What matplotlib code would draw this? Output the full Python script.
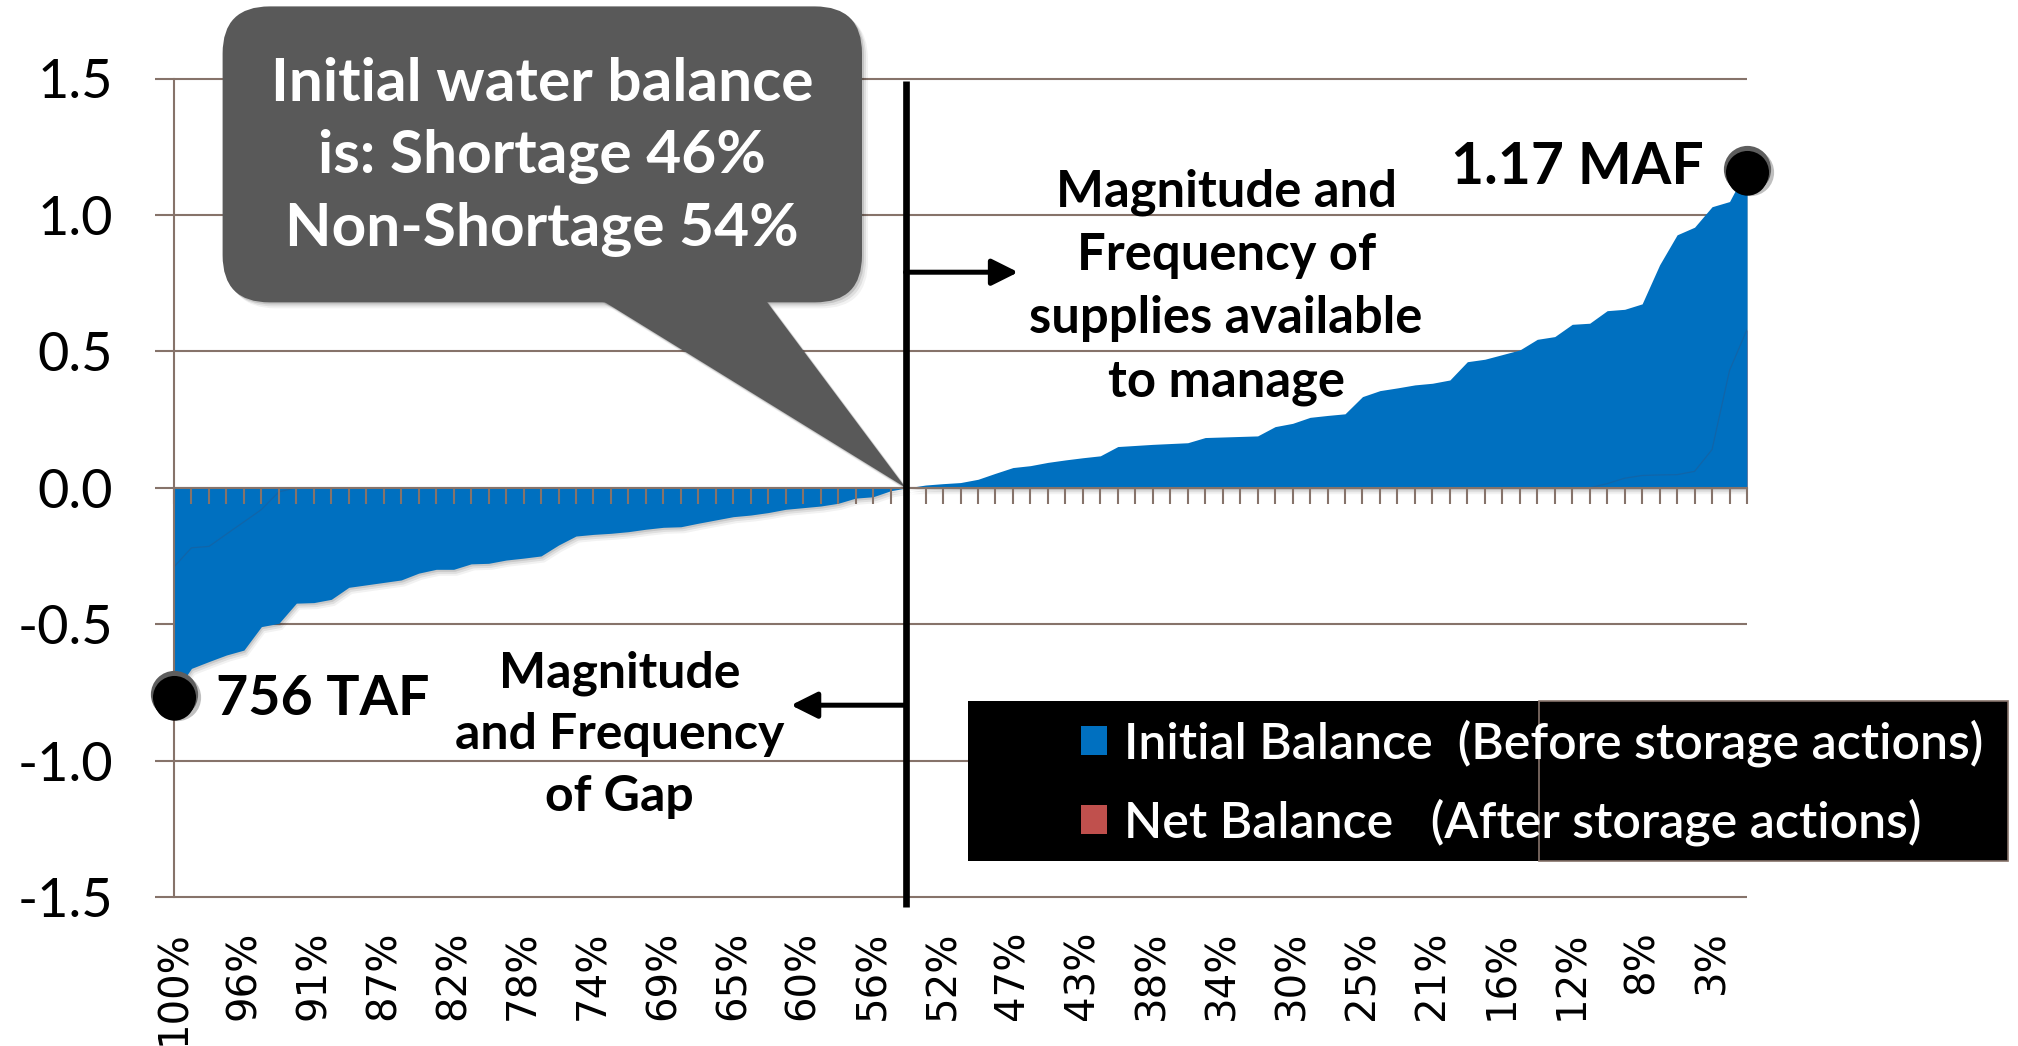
import matplotlib
matplotlib.use("Agg")
import matplotlib.pyplot as plt
import matplotlib.transforms as mtransforms
from matplotlib.patches import FancyBboxPatch, Polygon, Rectangle
import numpy as np

plt.rcParams['font.family'] = ['Lato', 'DejaVu Sans']

# balance per exceedance rank (MAF)
initial_balance = [
    -0.756, -0.662, -0.637, -0.613, -0.595, -0.509, -0.497, -0.423, -0.421, -0.409,
    -0.365, -0.356, -0.347, -0.338, -0.313, -0.299, -0.299, -0.279, -0.277, -0.265,
    -0.258, -0.250, -0.210, -0.177, -0.171, -0.167, -0.161, -0.152, -0.145, -0.143,
    -0.130, -0.118, -0.106, -0.100, -0.091, -0.079, -0.073, -0.067, -0.057, -0.038,
    -0.033, -0.011, 0.000, 0.010, 0.015, 0.019, 0.031, 0.053, 0.074, 0.081,
    0.093, 0.102, 0.110, 0.117, 0.151, 0.155, 0.159, 0.162, 0.165, 0.184,
    0.186, 0.188, 0.190, 0.224, 0.236, 0.258, 0.265, 0.271, 0.334, 0.356,
    0.366, 0.377, 0.383, 0.395, 0.462, 0.471, 0.488, 0.505, 0.544, 0.554,
    0.599, 0.603, 0.649, 0.654, 0.674, 0.817, 0.927, 0.955, 1.030, 1.049,
    1.170,
]
net_balance = [
    -0.290, -0.220, -0.215, -0.170, -0.125, -0.080, -0.015, 0.0, 0.0, 0.0,
    0.0, 0.0, 0.0, 0.0, 0.0, 0.0, 0.0, 0.0, 0.0, 0.0,
    0.0, 0.0, 0.0, 0.0, 0.0, 0.0, 0.0, 0.0, 0.0, 0.0,
    0.0, 0.0, 0.0, 0.0, 0.0, 0.0, 0.0, 0.0, 0.0, 0.0,
    0.0, 0.0, 0.0, 0.0, 0.0, 0.0, 0.0, 0.0, 0.0, 0.0,
    0.0, 0.0, 0.0, 0.0, 0.0, 0.0, 0.0, 0.0, 0.0, 0.0,
    0.0, 0.0, 0.0, 0.0, 0.0, 0.0, 0.0, 0.0, 0.0, 0.0,
    0.0, 0.0, 0.0, 0.0, 0.0, 0.0, 0.0, 0.0, 0.0, 0.0,
    0.0, 0.0, 0.015, 0.035, 0.045, 0.047, 0.048, 0.060, 0.140, 0.430,
    0.580,
]
tick_labels = ['100%', '96%', '91%', '87%', '82%', '78%', '74%', '69%', '65%', '60%',
               '56%', '52%', '47%', '43%', '38%', '34%', '30%', '25%', '21%', '16%',
               '12%', '8%', '3%']
tick_every = 4
y_ticks = [-1.5, -1.0, -0.5, 0.0, 0.5, 1.0, 1.5]
series_names = ['Initial Balance  (Before storage actions)',
                'Net Balance   (After storage actions)']
extreme_labels = ['756 TAF', '1.17 MAF']
shortage_pct = 46
callout_text = 'Initial water balance\nis: Shortage 46%\nNon-Shortage 54%'
surplus_text = 'Magnitude and\nFrequency of\nsupplies available\nto manage'
gap_text = 'Magnitude\nand Frequency\nof Gap'

BLUE = '#0070C0'
RED = '#C0504D'
BROWN = '#86736A'
CALLOUT = '#595959'

W, H = 2018, 1046
n = len(initial_balance)
cats = np.arange(n)

fig = plt.figure(figsize=(W / 100, H / 100), dpi=100)
ax = fig.add_axes([174 / W, 1 - 897 / H, 1573 / W, 818.5 / H])
ax.set_xlim(0, n - 1)
ax.set_ylim(-1.5, 1.5)
inch = fig.dpi_scale_trans


def px(x, y):
    # pixel position measured from the top-left -> inches from bottom-left
    return x / 100, (H - y) / 100


# gridlines
ax.hlines(y_ticks, 0, n - 1, colors=BROWN, lw=1.5, zorder=0.5, clip_on=False)

# soft drop shadow under the blue area
for k, a in [(2, 0.10), (4, 0.08), (6, 0.05)]:
    off = ax.transData + mtransforms.ScaledTranslation(k * 0.5 / 100, -k / 100, inch)
    ax.fill_between(cats, initial_balance, 0, color='black', alpha=a, lw=0,
                    transform=off, zorder=1)

ax.fill_between(cats, net_balance, 0, color=RED, lw=0, zorder=1.5, label=series_names[1])
ax.fill_between(cats, initial_balance, 0, color=BLUE, lw=0, zorder=2, label=series_names[0])
ax.plot(cats, net_balance, color='#1d5e99', lw=0.9, alpha=0.6, zorder=2.2)

# axes styling
for s in ['top', 'right']:
    ax.spines[s].set_visible(False)
ax.spines['bottom'].set_position(('data', 0))
for s in ['bottom', 'left']:
    ax.spines[s].set_color(BROWN)
    ax.spines[s].set_linewidth(1.5)
ax.set_axisbelow(False)
ax.set_xticks(cats)
ax.tick_params(axis='x', direction='out', length=11.5, width=1.5, color=BROWN,
               labelbottom=False)
ax.set_yticks(y_ticks)
ax.set_yticklabels([f'{v:.1f}' for v in y_ticks])
ax.tick_params(axis='y', direction='out', length=13.7, width=1.5, color=BROWN,
               pad=30, labelsize=39)

sec = ax.secondary_xaxis('bottom')
sec.set_xticks(cats[::tick_every], tick_labels)
sec.tick_params(length=0, pad=24, labelsize=29, labelrotation=90,
                labelfontfamily='DejaVu Sans')
sec.spines['bottom'].set_visible(False)

# split line and arrows
split_x = shortage_pct / 100 * n
ax.plot([split_x, split_x], [1.49, -1.537], color='black', lw=4.8, clip_on=False,
        zorder=8, solid_capstyle='butt')
arrow = dict(arrowstyle='-|>,head_length=0.4,head_width=0.2', lw=3.6, color='black',
             mutation_scale=40, shrinkA=0, shrinkB=0)
ax.annotate('', xy=(48.3, 0.79), xytext=(split_x, 0.79), arrowprops=arrow, zorder=8)
ax.annotate('', xy=(35.3, -0.797), xytext=(split_x, -0.797), arrowprops=arrow, zorder=8)

ax.text(60.2, 0.735, surplus_text, ha='center', va='center', fontsize=36.5,
        fontweight='bold', linespacing=1.42, zorder=8)
ax.text(25.5, -0.905, gap_text, ha='center', va='center', fontsize=36,
        fontweight='bold', linespacing=1.44, zorder=8)

# extreme markers
ext_idx = [int(np.argmin(initial_balance)), int(np.argmax(initial_balance))]
ext_val = [initial_balance[i] for i in ext_idx]
shadow_tr = ax.transData + mtransforms.ScaledTranslation(0.03, -0.03, inch)
ax.scatter(ext_idx, ext_val, s=34 ** 2, color='black', alpha=0.25, lw=0,
           transform=shadow_tr, zorder=8.5, clip_on=False)
ax.scatter(ext_idx, ext_val, s=34 ** 2, color='#5e5e5e', lw=0, zorder=9, clip_on=False)
for k, sz in [(0.03, 31), (0.06, 29)]:
    tr = ax.transData + mtransforms.ScaledTranslation(0, -k, inch)
    ax.scatter(ext_idx, ext_val, s=sz ** 2, color='black', lw=0, transform=tr,
               zorder=9, clip_on=False)
ax.text(2.4, -0.774, extreme_labels[0], ha='left', va='center', fontsize=40,
        fontweight='bold', zorder=9)
ax.text(87.5, 1.175, extreme_labels[1], ha='right', va='center', fontsize=41,
        fontweight='bold', zorder=9)

# callout bubble
tip = tuple(ax.transData.transform((split_x, 0)) / 100)


def bubble_shapes():
    box = FancyBboxPatch(px(222.6, 302.4), 6.394, 2.96,
                         boxstyle='round,pad=0,rounding_size=0.47')
    pointer = Polygon([px(598, 298), px(764, 298), tip])
    return [box, pointer]


for k, a in [(0.02, 0.12), (0.04, 0.08), (0.06, 0.05)]:
    tr = inch + mtransforms.ScaledTranslation(k, -k, inch)
    for sh in bubble_shapes():
        sh.set(transform=tr, fc='black', alpha=a, ec='none', zorder=6, clip_on=False)
        ax.add_patch(sh)
for sh in bubble_shapes():
    sh.set(transform=inch, fc=CALLOUT, ec='none', zorder=7, clip_on=False)
    ax.add_patch(sh)
ax.text(*px(542, 157), callout_text, transform=inch, ha='center', va='center',
        color='white', fontsize=43.5, fontweight='bold', linespacing=1.4, zorder=7.5)

# legend panel
ax.add_patch(Rectangle(px(968, 861), 10.40, 1.60, transform=inch, fc='black', ec='none',
                       zorder=10, clip_on=False))
ax.add_patch(Rectangle(px(1539, 861), 4.69, 1.60, transform=inch, fc='none', ec=BROWN,
                       lw=1.2, zorder=10.5, clip_on=False))
handles, labels = ax.get_legend_handles_labels()
leg = ax.legend(handles[::-1], labels[::-1], loc='upper left',
                bbox_to_anchor=(1081 / W, 1 - 719 / H), bbox_transform=fig.transFigure,
                frameon=False, prop={'size': 36, 'weight': 'semibold'}, labelcolor='white',
                borderpad=0, handlelength=0.52, handleheight=0.52, handletextpad=0.34,
                labelspacing=0.63, borderaxespad=0)
leg.set_zorder(11)

fig.savefig('out.png', dpi=100)
